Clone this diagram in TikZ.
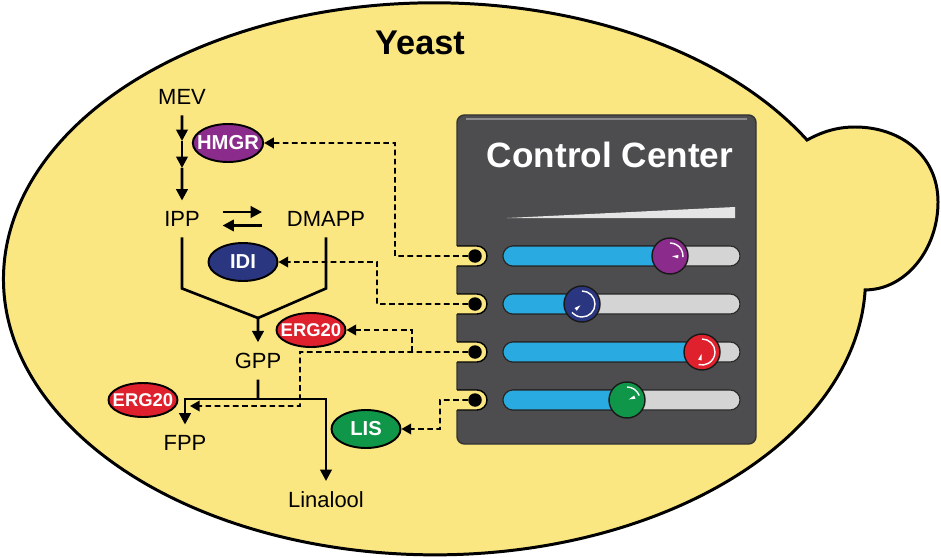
\documentclass[tikz,border=0pt]{standalone}
\usepackage{fontspec}
\setmainfont{Liberation Sans}
\usepackage{tikz}
\usetikzlibrary{shapes,arrows.meta}

\definecolor{yeast}{RGB}{251,231,130}
\definecolor{panel}{RGB}{77,77,79}
\definecolor{hmgrc}{RGB}{139,43,139}
\definecolor{idic}{RGB}{43,54,128}
\definecolor{ergc}{RGB}{222,33,45}
\definecolor{lisc}{RGB}{16,150,72}
\definecolor{trackblue}{RGB}{41,171,226}
\definecolor{trackgray}{RGB}{212,212,212}

\begin{document}
\begin{tikzpicture}[scale=0.2,
	flow/.style={line width=1.5pt,-{Triangle[length=6.5pt,width=6.5pt]}},
	bond/.style={line width=1.5pt},
	ctrl/.style={line width=1.1pt,dash pattern=on 3.2pt off 2pt,-{Triangle[length=5.5pt,width=6pt]}},
	met/.style={font=\fontsize{12.5}{14}\selectfont,inner xsep=2pt,inner ysep=6pt},
	enzyme/.style={ellipse,draw=black,line width=1.1pt,text=white,font=\fontsize{11.5}{13}\selectfont\bfseries,inner xsep=-0.12cm,inner ysep=0pt,minimum width=1.38cm,minimum height=0.76cm},
	erg/.style={enzyme,fill=ergc,font=\fontsize{10.5}{12}\selectfont\bfseries,minimum width=1.38cm,minimum height=0.68cm},
	knob/.style={circle,draw=black!90,line width=0.8pt,minimum size=0.72cm},
	dot/.style={circle,fill=black,minimum size=0.27cm}]
	\tikzstyle{every node}+=[inner sep=0pt]
	\useasboundingbox (0,0) rectangle (94.1,-55.8);
	% cell with bud
	\draw [fill=yeast,line width=1.7pt] (80.7,-14.0) arc[start angle=30.2,end angle=357.7,x radius=43.1,y radius=27.6]
		.. controls (90.5,-29.0) and (93.8,-25.0) .. (93.8,-20.2)
		.. controls (93.8,-15.5) and (90.0,-12.7) .. (85.5,-12.7)
		.. controls (83.5,-12.7) and (82.0,-13.3) .. (80.7,-14.0) -- cycle;
	\node [font=\fontsize{19.5}{22}\selectfont\bfseries] (yeast) at (42.0,-4.3) {Yeast};
	% control center
	\draw [fill=panel,draw=black!80,line width=0.8pt,rounded corners=0.15cm] (45.7,-11.5) rectangle (75.6,-44.4);
	\draw [white!35!panel,line width=1.2pt] (46.6,-11.9) -- (74.7,-11.9);
	\node [text=white,font=\fontsize{20}{24}\selectfont\bfseries] (cc) at (61.0,-15.5) {Control Center};
	\fill [black!10] (50.7,-21.8) -- (73.5,-21.8) -- (73.5,-20.7) -- cycle;
	\foreach \n/\y/\k/\col/\a in {1/-25.6/67.0/hmgrc/-5, 2/-30.4/58.2/idic/-140, 3/-35.2/70.2/ergc/-105, 4/-40.0/62.7/lisc/20} {
		\fill [yeast] (45.4,\y-1.0) rectangle (46.0,\y+1.0);
		\draw [fill=yeast,line width=0.8pt] (45.7,\y+1.0) -- (47.7,\y+1.0) arc[start angle=90,end angle=-90,radius=1.0] -- (45.7,\y-1.0);
		\node [dot] (d\n) at (47.5,\y) {};
		\draw [fill=trackgray,draw=black!85,line width=0.6pt,rounded corners=0.2cm] (50.3,\y-1.0) rectangle (74.0,\y+1.0);
		\draw [fill=trackblue,draw=black!85,line width=0.6pt,rounded corners=0.2cm] (50.3,\y-1.0) rectangle (\k+0.5,\y+1.0);
		\node [knob,fill=\col] (k\n) at (\k,\y) {};
		\begin{scope}[shift={(\k,\y)}]
			\draw [white,line width=0.8pt] (90:1.3) arc[start angle=90,end angle=\a,radius=1.3];
			\fill [white] (\a:0.2) -- (\a+12:0.85) -- (\a-12:0.85) -- cycle;
		\end{scope}
	}
	% pathway
	\node [met] (mev) at (18.2,-9.7) {MEV};
	\node [met] (ipp) at (18.2,-21.9) {IPP};
	\node [met] (dmapp) at (32.6,-21.9) {DMAPP};
	\node [met] (gpp) at (25.8,-36.1) {GPP};
	\node [met] (fpp) at (18.5,-44.3) {FPP};
	\node [met] (lin) at (32.6,-50.0) {Linalool};
	\coordinate (h1) at (18.2,-14.1);
	\coordinate (h2) at (18.2,-16.8);
	\coordinate (gj) at (25.8,-31.8);
	\coordinate (gb) at (25.8,-39.9);
	\draw [flow] (mev) -- (h1);
	\draw [flow] (h1) -- (h2);
	\draw [flow] (h2) -- (ipp);
	\draw [flow] ([xshift=1.9cm,yshift=0.7cm]ipp.east) -- ([xshift=-2.1cm,yshift=0.7cm]dmapp.west);
	\draw [flow] ([xshift=-2.1cm,yshift=-0.65cm]dmapp.west) -- ([xshift=1.9cm,yshift=-0.65cm]ipp.east);
	\draw [bond] (ipp.south) -- ++(0,-5.1) -- (gj);
	\draw [bond] (dmapp.south) -- ++(0,-5.1) -- (gj);
	\draw [flow] (gj) -- (gpp);
	\draw [bond] (gpp) -- (gb);
	\draw [flow] (gb) -| (fpp);
	\draw [flow] (gb) -| (lin);
	% enzymes
	\node [enzyme,fill=hmgrc] (hmgr) at (22.8,-14.3) {HMGR};
	\node [enzyme,fill=idic] (idi) at (24.3,-26.2) {IDI};
	\node [erg] (erg1) at (31.1,-33.0) {ERG20};
	\node [erg] (erg2) at (14.3,-40.0) {ERG20};
	\node [enzyme,fill=lisc] (lis) at (36.6,-42.9) {LIS};
	% control lines
	\coordinate (fpptip) at (19.0,-40.6);
	\coordinate (br) at (41.2,-35.2);
	\draw [ctrl] (d1) -| (39.5,-14.3) -- (hmgr);
	\draw [ctrl] (d2) -| (37.7,-26.2) -- (idi);
	\draw [ctrl] (d3) -| (30.0,-40.6) -- (fpptip);
	\draw [ctrl] (br) |- (erg1);
	\draw [ctrl] (d4) -| (44.0,-42.9) -- (lis);
\end{tikzpicture}
\end{document}
